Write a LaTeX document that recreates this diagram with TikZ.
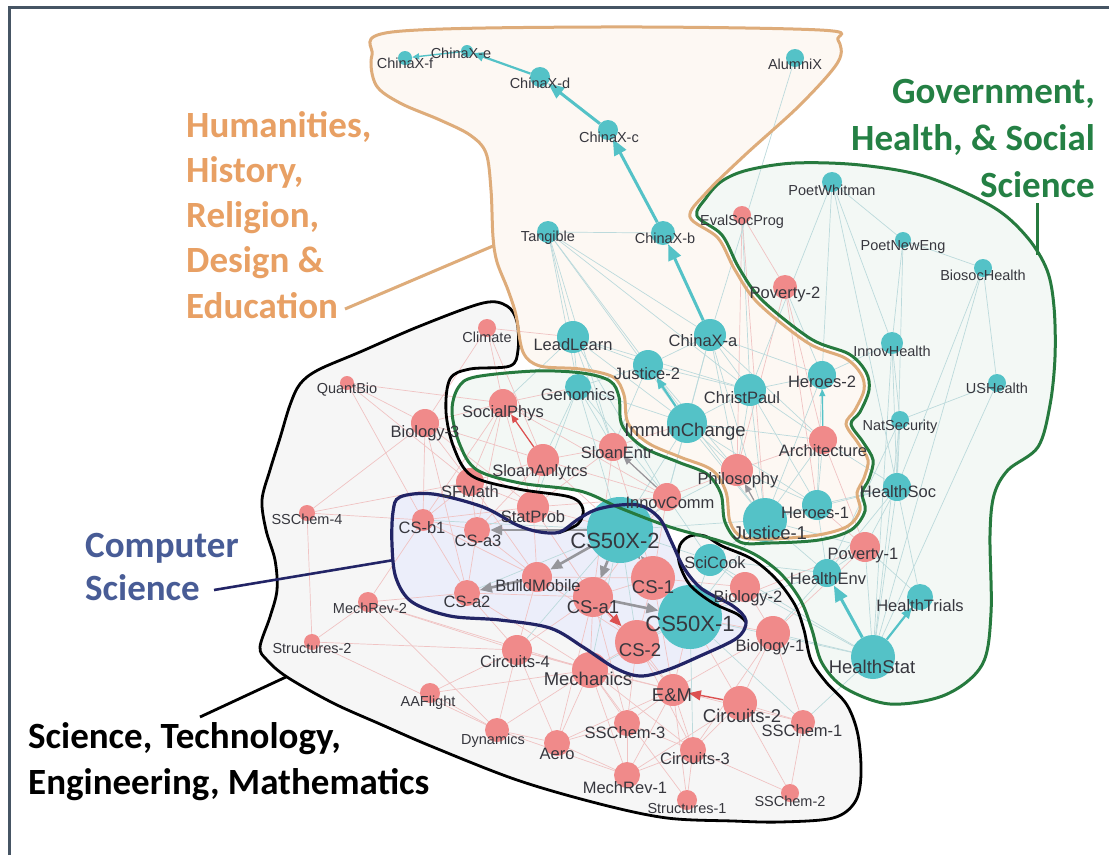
\documentclass[tikz,border=0pt]{standalone}
\usepackage{fontspec}
\setmainfont{Liberation Sans}
\newfontfamily\calib{Carlito}
\usetikzlibrary{arrows.meta}
\definecolor{tealc}{RGB}{84,194,199}
\definecolor{pinkc}{RGB}{240,138,138}
\definecolor{lblc}{RGB}{55,55,62}
\definecolor{edgep}{RGB}{240,195,195}
\definecolor{edget}{RGB}{188,218,220}
\definecolor{grayc}{RGB}{150,150,155}
\definecolor{redc}{RGB}{220,80,80}
\definecolor{orline}{RGB}{222,172,122}
\definecolor{ortext}{RGB}{232,160,100}
\definecolor{orfill}{RGB}{253,248,243}
\definecolor{grline}{RGB}{38,122,62}
\definecolor{grtext}{RGB}{36,128,68}
\definecolor{grfill}{RGB}{243,248,245}
\definecolor{nvline}{RGB}{34,36,102}
\definecolor{nvtext}{RGB}{72,92,150}
\definecolor{nvfill}{RGB}{236,238,250}
\definecolor{stfill}{RGB}{246,246,246}
\definecolor{framec}{RGB}{70,85,100}
\pgfdeclarelayer{bg}
\pgfdeclarelayer{edges}
\pgfdeclarelayer{lines}
\pgfdeclarelayer{labels}
\pgfsetlayers{bg,edges,main,lines,labels}
\newcommand\fsA{\fontsize{14.5}{16}\selectfont}
\newcommand\fsB{\fontsize{16.5}{18}\selectfont}
\newcommand\fsC{\fontsize{18.5}{20}\selectfont}
\newcommand\fsD{\fontsize{22}{24}\selectfont}
\newcommand\nd[5]{\node[dot,fill=#5,minimum size=#4pt] (#1) at (#2,#3) {};}
\newcommand\lb[5]{\node[lbl,font=#5] (#1-l) at (#2,#3) {#4};}
\begin{document}
\begin{tikzpicture}[x=1pt,y=-1pt,
  dot/.style={circle,inner sep=0pt,draw=none},
  lbl/.style={inner sep=0pt,text=lblc},
  ep/.style={draw=edgep,line width=0.7pt},
  et/.style={draw=edget,line width=0.7pt},
  arrT/.style={draw=tealc,line width=3pt,-{Triangle[length=16pt,width=13pt]}},
  arrTm/.style={draw=tealc,line width=2.2pt,-{Triangle[length=11pt,width=9pt]}},
  arrTs/.style={draw=tealc,line width=1.4pt,-{Triangle[length=7pt,width=6pt]}},
  arrG/.style={draw=grayc,line width=2.6pt,-{Triangle[length=12pt,width=10pt]}},
  arrGs/.style={draw=grayc,line width=1.2pt,-{Triangle[length=8pt,width=7pt]}},
  arrR/.style={draw=redc,line width=1.4pt,-{Triangle[length=12pt,width=10pt]}},
  cat/.style={inner sep=0pt,anchor=base west,font=\calib\bfseries\fontsize{37}{40}\selectfont},
  catr/.style={inner sep=0pt,anchor=base east,font=\calib\bfseries\fontsize{37}{40}\selectfont},
  olo/.style={draw=orline,line width=3pt},
  olg/.style={draw=grline,line width=3pt},
  oln/.style={draw=nvline,line width=3.2pt},
  olb/.style={draw=black,line width=2.8pt}]
\useasboundingbox (0,0) rectangle (1109,855);
\begin{pgfonlayer}{bg}
\fill[white] (0,0) rectangle (1109,855);
\end{pgfonlayer}
% frame
\coordinate (fr1) at (9,855);
\coordinate (fr2) at (9,7);
\coordinate (fr3) at (1109,7);
\draw[framec,line width=3pt] (fr1) -- (fr2) -- (fr3);

% region paths
\path[save path=\pathO] plot[smooth cycle,tension=0.55] coordinates {
(392,32) (600,27) (820,30) (838,40) (838,62) (800,105) (745,155) (706,193) (690,217)
(718,238) (735,270) (758,303) (808,343) (845,358) (861,374) (864,390) (855,410) (846,424)
(858,443) (868,460) (864,478) (857,493) (860,510) (848,526) (818,535) (770,539) (742,537)
(730,522) (726,492) (712,470) (680,457) (648,443) (628,423) (624,395) (613,377) (580,369)
(540,366) (523,352) (516,315) (508,290) (497,262) (493,237) (491,190) (486,153) (470,135)
(440,120) (400,103) (376,85) (372,55)};
\path[save path=\pathG] plot[smooth cycle,tension=0.55] coordinates {
(697,216) (706,198) (722,181) (748,170) (795,163) (860,165) (927,177) (993,207) (1027,237)
(1047,270) (1054,307) (1055,357) (1050,405) (1038,447) (1008,470) (994,495) (990,535)
(991,613) (982,665) (945,695) (890,704) (845,688) (822,663) (812,630) (801,601) (781,574)
(754,554) (720,541) (670,527) (620,508) (580,491) (520,483) (477,470) (460,445) (452,412)
(458,388) (475,377) (535,371) (582,373) (610,381) (619,397) (622,425) (643,447) (678,462)
(707,474) (721,494) (725,522) (740,542) (770,543) (819,540) (851,530) (865,511) (862,493)
(869,479) (873,460) (863,442) (851,424) (860,412) (869,390) (866,372) (849,354) (811,339)
(762,300) (739,268) (722,235)};
\path[save path=\pathS] plot[smooth,tension=0.55] coordinates {
(746,622) (737,614) (713,603) (690,585) (679,562) (680,545) (690,536) (705,536) (722,546)
(752,559) (776,579) (795,605) (804,630) (811,660) (826,682) (847,705) (858,735) (861,775)
(855,802) (833,818) (780,822) (733,821) (667,818) (600,804) (517,780) (433,747) (380,724)
(333,703) (287,677) (267,660) (260,647) (270,617) (277,590) (275,560) (266,530) (262,500)
(270,470) (280,438) (290,405) (300,384) (318,370) (360,352) (420,326) (483,303) (507,306)
(517,322) (518,350) (510,366) (470,369) (450,379) (446,412) (454,448) (472,476) (518,489)
(570,497) (583,509) (578,524) (558,533)};
\path[save path=\pathC] plot[smooth cycle,tension=0.55] coordinates {
(400,497) (433,494) (483,507) (517,525) (540,532) (560,532) (577,520) (595,510) (620,505)
(642,506) (660,519) (672,543) (684,568) (702,589) (733,606) (746,621) (737,638) (700,656)
(667,670) (640,676) (615,668) (583,647) (550,628) (500,620) (450,616) (412,602) (396,578)
(392,545) (393,512)};
\begin{pgfonlayer}{bg}
\fill[stfill,use path=\pathS];
\fill[orfill,use path=\pathO];
\fill[grfill,use path=\pathG];
\fill[nvfill,use path=\pathC];
\end{pgfonlayer}

% nodes
\nd{cxf}{405}{58}{14}{tealc}
\nd{cxe}{467}{51}{12}{tealc}
\nd{cxd}{540}{77}{20}{tealc}
\nd{cxc}{608}{130}{20}{tealc}
\nd{cxb}{663}{233}{24}{tealc}
\nd{tang}{548}{232}{22}{tealc}
\nd{alum}{795}{58}{18}{tealc}
\nd{cxa}{710}{335}{32}{tealc}
\nd{lead}{573}{337}{32}{tealc}
\nd{jus2}{648}{365}{30}{tealc}
\nd{clim}{487}{328}{18}{pinkc}
\nd{geno}{578}{387}{26}{tealc}
\nd{soph}{503}{403}{28}{pinkc}
\nd{immun}{687}{423}{40}{tealc}
\nd{christ}{750}{390}{32}{tealc}
\nd{sentr}{613}{447}{28}{pinkc}
\nd{sanly}{543}{460}{32}{pinkc}
\nd{phil}{737}{470}{32}{pinkc}
\nd{sfm}{470}{482}{28}{pinkc}
\nd{qbio}{347}{383}{14}{pinkc}
\nd{bio3}{425}{423}{28}{pinkc}
\nd{ssc4}{307}{513}{16}{pinkc}
\nd{stat}{533}{507}{32}{pinkc}
\nd{csb1}{423}{520}{22}{pinkc}
\nd{csa3}{477}{530}{26}{pinkc}
\nd{cs50x2}{620}{530}{66}{tealc}
\nd{bmob}{537}{577}{30}{pinkc}
\nd{csa2}{467}{593}{26}{pinkc}
\nd{cs1}{653}{578}{44}{pinkc}
\nd{csa1}{593}{597}{40}{pinkc}
\nd{cs50x1}{690}{617}{64}{tealc}
\nd{cs2}{637}{642}{44}{pinkc}
\nd{scic}{710}{560}{32}{tealc}
\nd{bio2}{745}{587}{30}{pinkc}
\nd{bio1}{773}{633}{34}{pinkc}
\nd{circ4}{517}{650}{30}{pinkc}
\nd{mech}{590}{670}{36}{pinkc}
\nd{em}{673}{690}{32}{pinkc}
\nd{aaf}{430}{693}{20}{pinkc}
\nd{circ2}{740}{703}{34}{pinkc}
\nd{ssc1}{803}{722}{24}{pinkc}
\nd{ssc3}{627}{723}{26}{pinkc}
\nd{dyn}{497}{730}{24}{pinkc}
\nd{aero}{557}{743}{26}{pinkc}
\nd{circ3}{693}{750}{26}{pinkc}
\nd{mr1}{627}{775}{26}{pinkc}
\nd{str1}{687}{800}{20}{pinkc}
\nd{ssc2}{790}{793}{18}{pinkc}
\nd{icomm}{667}{497}{28}{pinkc}
\nd{her1}{817}{505}{30}{tealc}
\nd{jus1}{765}{520}{44}{tealc}
\nd{pw}{832}{182}{20}{tealc}
\nd{esp}{742}{215}{18}{pinkc}
\nd{pne}{903}{240}{16}{tealc}
\nd{bsh}{983}{268}{18}{tealc}
\nd{pov2}{785}{287}{24}{pinkc}
\nd{ih}{892}{343}{22}{tealc}
\nd{ush}{997}{383}{18}{tealc}
\nd{her2}{822}{375}{28}{tealc}
\nd{nats}{900}{420}{18}{tealc}
\nd{arch}{823}{440}{28}{pinkc}
\nd{hsoc}{897}{487}{28}{tealc}
\nd{pov1}{865}{547}{30}{pinkc}
\nd{henv}{827}{573}{28}{tealc}
\nd{htri}{920}{597}{26}{tealc}
\nd{hstat}{873}{657}{44}{tealc}
\nd{mr2}{368}{602}{20}{pinkc}
\nd{str2}{312}{642}{16}{pinkc}

% edges
\begin{pgfonlayer}{edges}
\foreach \a/\b in {soph/bio3,soph/sanly,soph/sentr,soph/sfm,soph/stat,soph/csb1,soph/geno,soph/qbio,soph/clim,soph/icomm,soph/csa3,
bio3/qbio,bio3/sfm,bio3/sanly,bio3/ssc4,bio3/csb1,bio3/stat,bio3/clim,bio3/csa2,clim/lead,clim/sanly,qbio/csb1,qbio/sfm,
sanly/sentr,sanly/sfm,sanly/stat,sanly/icomm,sanly/cs50x2,sanly/csa3,sentr/icomm,sentr/stat,sentr/csa1,sentr/cs1,sentr/immun,
sfm/stat,sfm/csb1,sfm/csa3,sfm/bmob,sfm/ssc4,stat/csa3,stat/cs50x2,stat/bmob,stat/csa1,stat/csb1,
csb1/csa3,csb1/csa2,csb1/bmob,csb1/ssc4,csb1/mr2,csa3/csa2,csa3/bmob,csa2/bmob,csa2/csa1,csa2/mr2,csa2/circ4,csa2/mech,
bmob/csa1,bmob/cs1,bmob/circ4,bmob/cs2,csa1/cs1,csa1/mech,csa1/circ4,csa1/em,csa1/ssc3,csa1/aero,cs1/cs2,cs1/em,cs1/bio2,
cs2/mech,cs2/em,cs2/circ3,cs2/ssc3,cs50x1/bio2,cs50x1/bio1,cs50x1/em,cs50x1/circ2,bio2/bio1,bio1/em,bio1/circ2,bio1/ssc1,bio1/circ3,
circ4/mech,circ4/dyn,circ4/aero,circ4/em,circ4/aaf,circ4/mr2,mech/em,mech/dyn,mech/aero,mech/ssc3,mech/mr1,mech/circ3,mech/str1,mech/aaf,
em/circ3,em/ssc3,em/mr1,em/str1,em/ssc1,em/aero,circ2/ssc1,circ2/circ3,circ2/ssc2,circ2/mr1,ssc3/mr1,ssc3/circ3,ssc3/aero,
aero/dyn,aero/mr1,dyn/aaf,dyn/mr1,circ3/str1,circ3/mr1,ssc1/ssc2,circ3/ssc2,mr2/str2,mr2/mech,mr2/dyn,ssc4/str2,str2/circ4,str2/dyn,
phil/icomm,phil/arch,arch/pov2,esp/pov2,esp/phil,pov2/phil,pov2/her1,esp/jus1,icomm/cs1,icomm/csa1,icomm/stat,pov1/bio1,pov1/cs50x1,pov1/her1,arch/pov1}
  \draw[ep] (\a) -- (\b);
\foreach \a/\b in {tang/lead,tang/geno,tang/immun,tang/jus2,tang/cxa,tang/christ,tang/sentr,
lead/jus2,lead/immun,lead/geno,lead/christ,lead/soph,lead/sentr,lead/icomm,
cxa/jus2,cxa/immun,cxa/christ,cxa/phil,cxa/her2,cxa/arch,cxa/jus1,cxa/icomm,
jus2/phil,jus2/christ,jus2/geno,jus2/sentr,jus2/jus1,geno/immun,geno/sentr,geno/sanly,geno/icomm,geno/cs50x2,geno/stat,
immun/christ,immun/phil,immun/jus1,immun/her1,immun/arch,immun/icomm,immun/cs50x2,
christ/phil,christ/her2,christ/jus1,christ/arch,christ/her1,christ/pw,christ/esp,
her2/her1,her2/pov2,her2/jus1,her2/pw,her2/ih,arch/her1,arch/hsoc,arch/jus1,phil/her1,phil/cs50x2,
her1/jus1,her1/hsoc,her1/henv,jus1/cs50x2,jus1/scic,jus1/henv,jus1/pov1,jus1/cs50x1,jus1/hsoc,
pw/pne,pw/ih,pw/hsoc,pne/ih,pne/hsoc,pne/bsh,bsh/hstat,bsh/hsoc,bsh/ush,ih/nats,ih/hsoc,ih/hstat,ush/hstat,ush/nats,
nats/hsoc,nats/hstat,nats/henv,hsoc/hstat,hsoc/henv,hsoc/htri,hsoc/pov1,pov1/henv,pov1/hstat,pov1/htri,
henv/scic,henv/bio1,henv/cs50x1,hstat/bio1,hstat/cs50x1,hstat/scic,hstat/bio2,hstat/ssc1,
scic/cs50x2,scic/cs50x1,scic/bio2,scic/icomm,cs50x2/csb1,cs50x2/csa2,cs50x2/icomm,cs50x2/cs2,cs50x2/mech,cs50x2/circ4,
cs50x1/cs2,cs50x1/cs1,cs50x1/mech,cs50x1/circ3,cs50x1/ssc1,tang/cxb,alum/cxa}
  \draw[et] (\a) -- (\b);
% prominent arrows
\draw[arrT] (cxa) -- (cxb);
\draw[arrT] (cxb) -- (cxc);
\draw[arrT] (cxc) -- (cxd);
\draw[arrTm] (cxd) -- (cxe);
\draw[arrTs] (cxe) -- (cxf);
\draw[arrT] (hstat) -- (henv);
\draw[arrTm] (hstat) -- (htri);
\draw[arrTm] (immun) -- (jus2);
\draw[arrTs] (arch) -- (her2);
\draw[arrG] (cs50x2) -- (csa3);
\draw[arrG] (cs50x2) -- (bmob);
\draw[arrG] (cs50x2) -- (csa1);
\draw[arrG] (cs50x2) -- (cs1);
\draw[arrG] (cs50x1) -- (cs50x2);
\draw[arrG] (csa1) -- (cs50x1);
\draw[arrG] (bmob) -- (csa2);
\draw[arrGs] (jus1) -- (phil);
\draw[arrGs] (icomm) -- (sentr);
\draw[arrR] (csa1) -- (cs2);
\draw[arrR] (circ2) -- (em);
\draw[arrGs,draw=redc] (sanly) -- (soph);
\end{pgfonlayer}

% outlines
\begin{pgfonlayer}{lines}
\draw[olb,use path=\pathS];
\draw[olg,use path=\pathG];
\draw[olo,use path=\pathO];
\draw[oln,use path=\pathC];
\coordinate (oc1) at (345,309);
\coordinate (oc2) at (493,246);
\draw[olo] (oc1) -- (oc2);
\coordinate (gc1) at (1037,203);
\coordinate (gc2) at (1037,255);
\draw[olg] (gc1) -- (gc2);
\coordinate (nc1) at (214,590);
\coordinate (nc2) at (394,560);
\draw[oln,line width=2.6pt] (nc1) -- (nc2);
\coordinate (bc1) at (200,717);
\coordinate (bc2) at (286,677);
\draw[olb] (bc1) -- (bc2);
\end{pgfonlayer}

% labels
\begin{pgfonlayer}{labels}
\lb{cxf}{405}{63}{ChinaX-f}{\fsA}
\lb{cxe}{461}{53}{ChinaX-e}{\fsA}
\lb{cxd}{540}{83}{ChinaX-d}{\fsA}
\lb{cxc}{609}{137}{ChinaX-c}{\fsA}
\lb{cxb}{665}{238}{ChinaX-b}{\fsA}
\lb{tang}{548}{238}{Tangible}{\fsA}
\lb{alum}{795}{64}{AlumniX}{\fsA}
\lb{cxa}{703}{341}{ChinaX-a}{\fsB}
\lb{lead}{573}{345}{LeadLearn}{\fsB}
\lb{jus2}{647}{374}{Justice-2}{\fsB}
\lb{clim}{487}{337}{Climate}{\fsA}
\lb{geno}{578}{395}{Genomics}{\fsB}
\lb{soph}{503}{413}{SocialPhys}{\fsB}
\lb{immun}{685}{432}{ImmunChange}{\fsC}
\lb{christ}{742}{398}{ChristPaul}{\fsB}
\lb{sentr}{617}{453}{SloanEntr}{\fsB}
\lb{sanly}{540}{472}{SloanAnlytcs}{\fsB}
\lb{phil}{738}{480}{Philosophy}{\fsB}
\lb{sfm}{470}{492}{SFMath}{\fsB}
\lb{qbio}{347}{390}{QuantBio}{\fsA}
\lb{bio3}{425}{433}{Biology-3}{\fsB}
\lb{ssc4}{307}{519}{SSChem-4}{\fsA}
\lb{stat}{533}{517}{StatProb}{\fsB}
\lb{csb1}{422}{528}{CS-b1}{\fsB}
\lb{csa3}{478}{541}{CS-a3}{\fsB}
\lb{cs50x2}{615}{541}{CS50X-2}{\fsD}
\lb{bmob}{538}{586}{BuildMobile}{\fsB}
\lb{csa2}{467}{602}{CS-a2}{\fsB}
\lb{cs1}{653}{587}{CS-1}{\fsC}
\lb{csa1}{593}{607}{CS-a1}{\fsC}
\lb{cs50x1}{690}{624}{CS50X-1}{\fsD}
\lb{cs2}{640}{650}{CS-2}{\fsC}
\lb{scic}{715}{563}{SciCook}{\fsB}
\lb{bio2}{748}{598}{Biology-2}{\fsB}
\lb{bio1}{770}{647}{Biology-1}{\fsB}
\lb{circ4}{515}{662}{Circuits-4}{\fsB}
\lb{mech}{588}{679}{Mechanics}{\fsC}
\lb{em}{672}{695}{E\&M}{\fsC}
\lb{aaf}{428}{703}{AAFlight}{\fsA}
\lb{circ2}{742}{716}{Circuits-2}{\fsC}
\lb{ssc1}{802}{731}{SSChem-1}{\fsB}
\lb{ssc3}{625}{733}{SSChem-3}{\fsB}
\lb{dyn}{493}{741}{Dynamics}{\fsA}
\lb{aero}{557}{754}{Aero}{\fsB}
\lb{circ3}{695}{759}{Circuits-3}{\fsB}
\lb{mr1}{625}{788}{MechRev-1}{\fsB}
\lb{str1}{687}{808}{Structures-1}{\fsA}
\lb{ssc2}{790}{801}{SSChem-2}{\fsA}
\lb{icomm}{670}{503}{InnovComm}{\fsB}
\lb{her1}{815}{513}{Heroes-1}{\fsB}
\lb{jus1}{770}{533}{Justice-1}{\fsC}
\lb{pw}{832}{190}{PoetWhitman}{\fsA}
\lb{esp}{742}{222}{EvalSocProg}{\fsA}
\lb{pne}{903}{247}{PoetNewEng}{\fsA}
\lb{bsh}{983}{275}{BiosocHealth}{\fsA}
\lb{pov2}{785}{294}{Poverty-2}{\fsB}
\lb{ih}{892}{351}{InnovHealth}{\fsA}
\lb{ush}{997}{388}{USHealth}{\fsA}
\lb{her2}{822}{382}{Heroes-2}{\fsB}
\lb{nats}{900}{427}{NatSecurity}{\fsA}
\lb{arch}{823}{451}{Architecture}{\fsB}
\lb{hsoc}{898}{492}{HealthSoc}{\fsB}
\lb{pov1}{863}{556}{Poverty-1}{\fsB}
\lb{henv}{828}{579}{HealthEnv}{\fsB}
\lb{htri}{920}{606}{HealthTrials}{\fsB}
\lb{hstat}{872}{667}{HealthStat}{\fsC}
\lb{mr2}{370}{608}{MechRev-2}{\fsA}
\lb{str2}{312}{648}{Structures-2}{\fsA}
% category labels
\node[cat,text=ortext] (hum1) at (186,137) {Humanities,};
\node[cat,text=ortext] (hum2) at (186,182) {History,};
\node[cat,text=ortext] (hum3) at (186,227) {Religion,};
\node[cat,text=ortext] (hum4) at (186,272) {Design \&};
\node[cat,text=ortext] (hum5) at (186,318) {Education};
\node[catr,text=grtext] (gov1) at (1095,103) {Government,};
\node[catr,text=grtext] (gov2) at (1095,150) {Health, \& Social};
\node[catr,text=grtext] (gov3) at (1095,197) {Science};
\node[cat,text=nvtext] (cs1t) at (85,557) {Computer};
\node[cat,text=nvtext] (cs2t) at (85,600) {Science};
\node[cat,text=black] (stem1) at (28,748) {Science, Technology,};
\node[cat,text=black] (stem2) at (28,794) {Engineering, Mathematics};
\end{pgfonlayer}
\end{tikzpicture}
\end{document}
